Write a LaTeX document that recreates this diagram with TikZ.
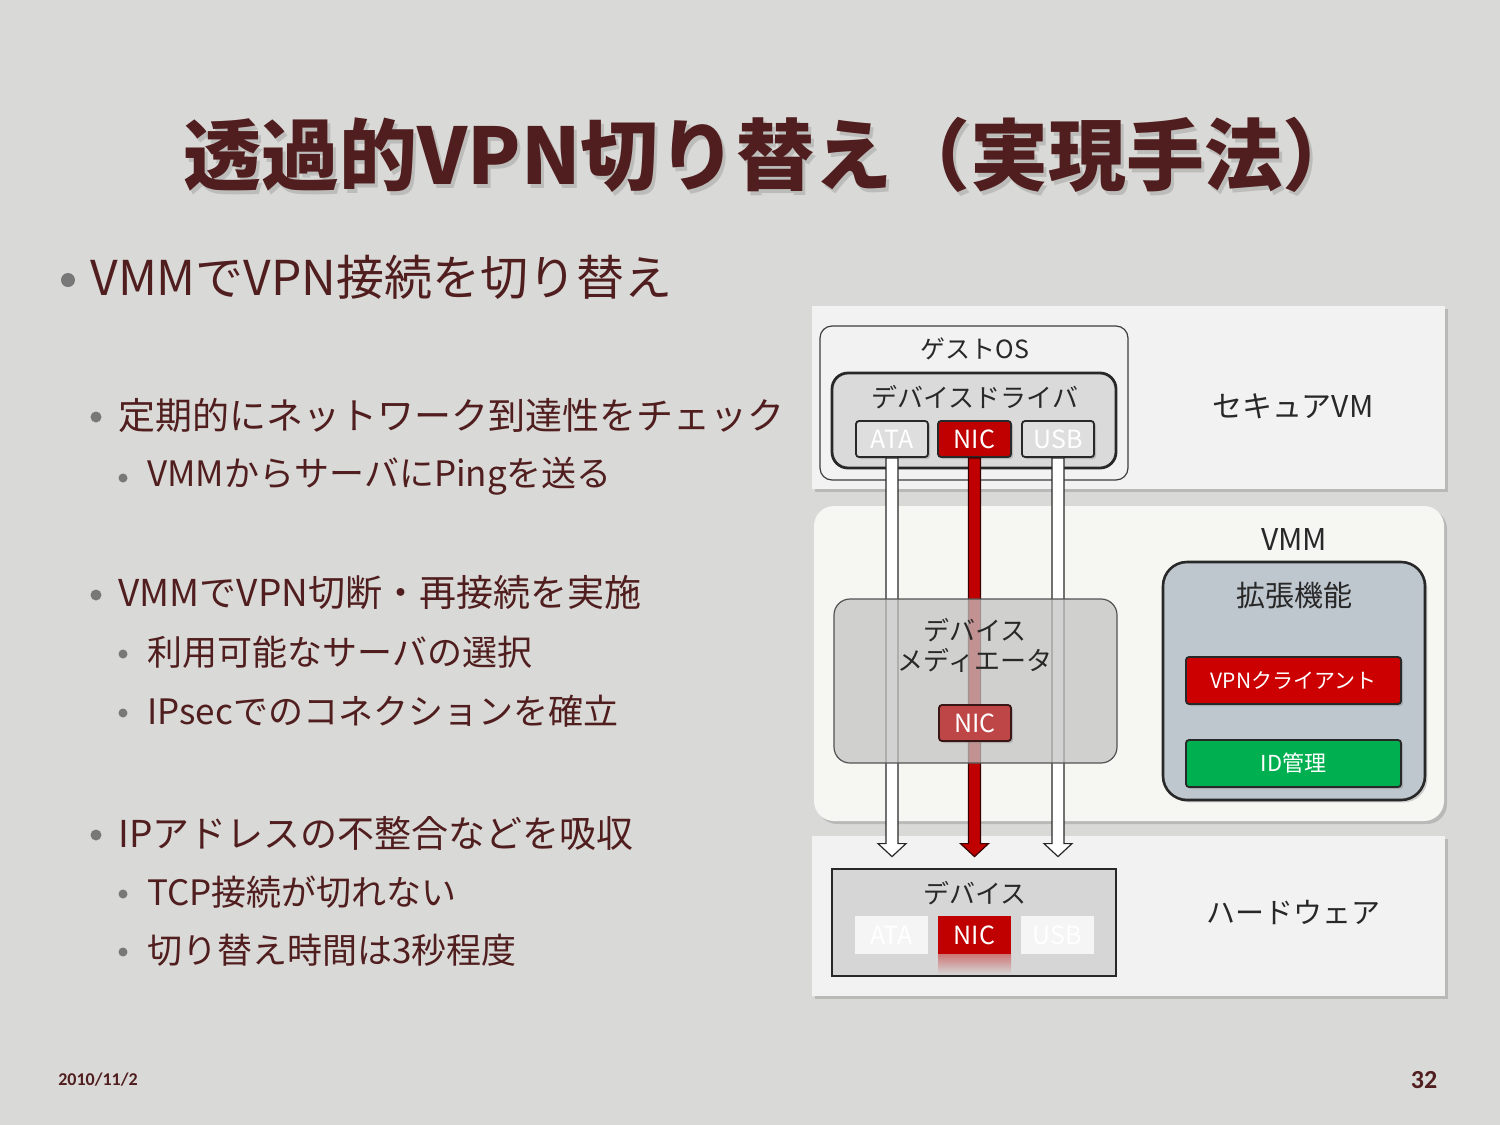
\documentclass[tikz,border=0pt]{standalone}
\usepackage{fontspec}
\setmainfont{Noto Sans CJK JP}
\newfontfamily\footfont{Carlito}
\usetikzlibrary{calc,shadows,fit}
\definecolor{bgc}{RGB}{217,217,215}
\definecolor{txt}{RGB}{80,30,30}
\definecolor{bul}{RGB}{120,120,120}
\definecolor{pan}{RGB}{242,242,242}
\definecolor{vmmpan}{RGB}{246,246,242}
\definecolor{ink}{RGB}{40,40,40}
\definecolor{nicred}{RGB}{192,0,0}
\definecolor{vpnred}{RGB}{204,0,0}
\definecolor{idgreen}{RGB}{0,176,80}
\definecolor{extfill}{RGB}{190,198,206}
\definecolor{drvfill}{RGB}{218,218,218}
\definecolor{devfill}{RGB}{214,214,214}
\definecolor{btngray}{RGB}{222,222,222}
\definecolor{medfill}{RGB}{196,196,196}
\definecolor{mednic}{RGB}{190,70,70}
\tikzset{
  fs/.style={font=\fontsize{#1}{#1}\selectfont},
  panelbox/.style={fill=#1, inner sep=0pt, drop shadow={shadow xshift=1.5pt, shadow yshift=-1.5pt, opacity=0.35}},
  dlabel/.style={text=ink, inner sep=0pt},
  btn/.style={draw=ink, line width=0.9pt, rounded corners=1.5pt, inner sep=0pt,
    drop shadow={shadow xshift=1pt, shadow yshift=-1pt, opacity=0.4}},
  btntext/.style={inner sep=0pt, text=white, fs=12.5},
  flatbtn/.style={inner sep=0pt},
  bodytext/.style={anchor=west, text=txt, inner sep=0pt},
  bdot/.style={circle, fill=bul, inner sep=0pt, minimum size=#1},
  arrwhite/.style={draw=ink, line width=0.6pt, fill=white, line join=miter},
  arrred/.style={draw=black!70!nicred, line width=0.6pt, fill=nicred, line join=miter},
}
\begin{document}
\begin{tikzpicture}[x=0.5pt,y=-0.5pt]
\fill[bgc] (0,0) rectangle (1500,1125);
\useasboundingbox (0,0) rectangle (1500,1125);

% title
\node[text=black!40, opacity=0.45, font=\bfseries\fontsize{39}{39}\selectfont] (titleshadow) at (775,159) {透過的VPN切り替え（実現手法）};
\node[text=txt, font=\bfseries\fontsize{39}{39}\selectfont] (title) at (772,155) {透過的VPN切り替え（実現手法）};

% bullets
\node[bdot=7pt] (b1) at (68,280) {};
\node[bodytext, fs=24] (t1) at (90,277) {VMMでVPN接続を切り替え};

\node[bdot=5.5pt] (b2) at (96,417) {};
\node[bodytext, fs=18.5] (t2) at (118,415) {定期的にネットワーク到達性をチェック};
\node[bdot=4.5pt] (b3) at (123,478) {};
\node[bodytext, fs=17.5] (t3) at (147,476) {VMMからサーバにPingを送る};

\node[bdot=5.5pt] (b4) at (96,595) {};
\node[bodytext, fs=18.5] (t4) at (118,593) {VMMでVPN切断・再接続を実施};
\node[bdot=4.5pt] (b5) at (123,654) {};
\node[bodytext, fs=17.5] (t5) at (147,652) {利用可能なサーバの選択};
\node[bdot=4.5pt] (b6) at (123,713) {};
\node[bodytext, fs=17.5] (t6) at (147,711) {IPsecでのコネクションを確立};

\node[bdot=5.5pt] (b7) at (96,835) {};
\node[bodytext, fs=18.5] (t7) at (118,833) {IPアドレスの不整合などを吸収};
\node[bdot=4.5pt] (b8) at (123,894) {};
\node[bodytext, fs=17.5] (t8) at (147,892) {TCP接続が切れない};
\node[bdot=4.5pt] (b9) at (123,952) {};
\node[bodytext, fs=17.5] (t9) at (147,950) {切り替え時間は3秒程度};

% footer
\node[text=txt, inner sep=0pt, font=\footfont\bfseries\fontsize{9}{9}\selectfont] (date) at (98,1080) {2010/11/2};
\node[text=txt, inner sep=0pt, font=\footfont\bfseries\fontsize{13}{13}\selectfont] (page) at (1424,1080) {32};

% panels
\node[panelbox=pan, fit={(812,306) (1445,489)}] (secvm) {};
\node[panelbox=vmmpan, rounded corners=10pt, fit={(814,506) (1444,821)}] (vmm) {};
\node[panelbox=pan, fit={(812,836) (1445,996)}] (hw) {};

\node[dlabel, fs=15] (secvml) at (1293,406) {セキュアVM};
\node[dlabel, fs=15] (vmml) at (1294,539) {VMM};
\node[dlabel, fs=14.5] (hwl) at (1293,912) {ハードウェア};

% guest OS
\node[fill=pan, draw=ink!90, line width=0.6pt, rounded corners=6pt, inner sep=0pt, fit={(820,326) (1128,480)}] (guest) {};
\node[dlabel, fs=12.5] (guestl) at (975,349) {ゲストOS};
\node[fill=drvfill, draw=ink, line width=1.4pt, rounded corners=8pt, inner sep=0pt, fit={(832,373) (1116,468)}] (drv) {};
\node[dlabel, fs=13] (drvl) at (975,397) {デバイスドライバ};
\node[btn, fill=btngray, fit={(856,421) (928,457)}] (ata) {};
\node[btn, fill=nicred, fit={(938,421) (1011,457)}] (nic) {};
\node[btn, fill=btngray, fit={(1022,421) (1094,457)}] (usb) {};
\node[btntext] (atal) at (ata.center) {ATA};
\node[btntext] (nicl) at (nic.center) {NIC};
\node[btntext] (usbl) at (usb.center) {USB};

% extension
\node[fill=extfill, draw=ink, line width=1.3pt, rounded corners=12pt, inner sep=0pt, fit={(1163,562) (1425,800)},
  drop shadow={shadow xshift=1.2pt, shadow yshift=-1.2pt, opacity=0.35}] (ext) {};
\node[dlabel, fs=14.5] (extl) at (1294,595) {拡張機能};
\node[btn, fill=vpnred, fit={(1186,657) (1401,704)}] (vpn) {};
\node[btntext, fs=10.5] (vpnl) at (vpn.center) {VPNクライアント};
\node[btn, fill=idgreen, fit={(1186,740) (1401,787)}] (idm) {};
\node[btntext, fs=11] (idml) at (idm.center) {ID管理};

% hardware device
\node[fill=devfill, draw=ink, line width=1.4pt, inner sep=0pt, fit={(832,869) (1116,976)}] (dev) {};
\node[dlabel, fs=13] (devl) at (975,893) {デバイス};
\fill[top color=nicred!45!devfill, bottom color=devfill] (938,954) rectangle (1011,974);
\node[flatbtn, fill=white!75!devfill, fit={(855,916) (928,954)}] (hata) {};
\node[flatbtn, fill=nicred, fit={(938,916) (1011,954)}] (hnic) {};
\node[flatbtn, fill=white!75!devfill, fit={(1021,916) (1094,954)}] (husb) {};
\node[btntext] (hatal) at (hata.center) {ATA};
\node[btntext] (hnicl) at (hnic.center) {NIC};
\node[btntext] (husbl) at (husb.center) {USB};

% arrows
\draw[arrwhite] ($(ata.south)+(-6,0)$) -- ($(ata.south |- dev.north)+(-6,-24)$) -- ($(ata.south |- dev.north)+(-14,-24)$)
  -- ($(ata.south |- dev.north)+(0,-11)$) -- ($(ata.south |- dev.north)+(14,-24)$) -- ($(ata.south |- dev.north)+(6,-24)$)
  -- ($(ata.south)+(6,0)$) -- cycle;
\draw[arrred] ($(nic.south)+(-6,0)$) -- ($(nic.south |- dev.north)+(-6,-24)$) -- ($(nic.south |- dev.north)+(-14,-24)$)
  -- ($(nic.south |- dev.north)+(0,-11)$) -- ($(nic.south |- dev.north)+(14,-24)$) -- ($(nic.south |- dev.north)+(6,-24)$)
  -- ($(nic.south)+(6,0)$) -- cycle;
\draw[arrwhite] ($(usb.south)+(-6,0)$) -- ($(usb.south |- dev.north)+(-6,-24)$) -- ($(usb.south |- dev.north)+(-14,-24)$)
  -- ($(usb.south |- dev.north)+(0,-11)$) -- ($(usb.south |- dev.north)+(14,-24)$) -- ($(usb.south |- dev.north)+(6,-24)$)
  -- ($(usb.south)+(6,0)$) -- cycle;

% device mediator (semi-transparent, over the arrows)
\node[fill=medfill, fill opacity=0.75, draw=ink!80, line width=0.6pt, rounded corners=8pt, inner sep=0pt, fit={(834,599) (1117,763)}] (med) {};
\node[dlabel, fs=13, align=center] (medl) at (975,645) {デバイス\\[2pt]メディエータ};
\node[btn, fill=mednic, draw=black!70!mednic, fit={(939,705) (1011,741)}] (mnic) {};
\node[btntext] (mnicl) at (mnic.center) {NIC};
\end{tikzpicture}
\end{document}
